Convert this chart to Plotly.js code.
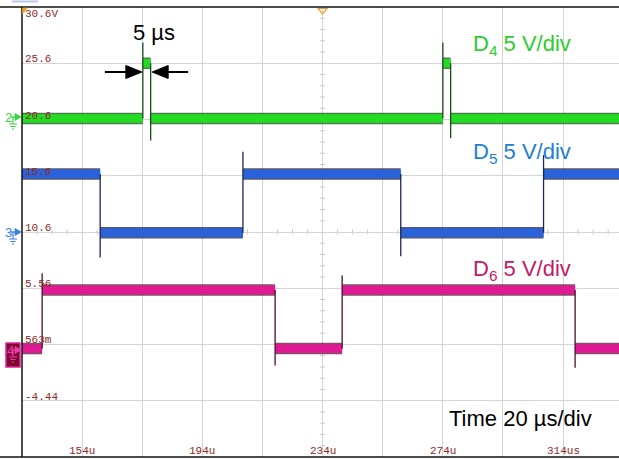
<!DOCTYPE html>
<html><head><meta charset="utf-8">
<script src="https://cdn.plot.ly/plotly-3.0.1.min.js"></script>
<style>html,body{margin:0;padding:0;background:#fff;}#chart{width:619px;height:459px;}</style>
</head><body><div id="chart"></div>
<script>
// ---- axes (time in µs, display volts) ----
const tStart = 134, tEnd = 332.6;
const vBottom = -9.44, vTop = 30.56;
const xTickValues = [154, 194, 234, 274, 314];
const xTickLabels = ['154u', '194u', '234u', '274u', '314us'];
const yTickValues = [30.56, 25.56, 20.56, 15.56, 10.56, 5.56, 0.563, -4.44];
const yTickLabels = ['30.6V', '25.6', '20.6', '15.6', '10.6', '5.56', '563m', '-4.44'];

// ---- D4 (green) ----
const d4Levels = [20.65, 25.56, 20.65, 25.56, 20.65];
const d4Edges  = [174.2, 176.8, 274.0, 276.6];
const d4Spikes = [27.4, 18.7, 27.4, 18.9];
// ---- D5 (blue) ----
const d5Levels = [15.72, 10.5, 15.72, 10.5, 15.72];
const d5Edges  = [160.0, 207.5, 260.0, 307.5];
const d5Spikes = [8.3, 17.7, 8.4, 17.4];
// ---- D6 (magenta) ----
const d6Levels = [0.2, 5.4, 0.2, 5.4, 0.2];
const d6Edges  = [140.7, 218.2, 240.5, 318.0];
const d6Spikes = [6.9, -1.3, 6.7, -1.5];

function bands(edges, levels){
  const x=[], y=[], b=[tStart, ...edges, tEnd];
  for(let i=0;i<levels.length;i++){ x.push(b[i], b[i+1], null); y.push(levels[i], levels[i], null); }
  return {x, y};
}
function edgeLines(edges, levels, spikes){
  const x=[], y=[];
  edges.forEach((t,i)=>{ x.push(t, t, t, null); y.push(levels[i], spikes[i], levels[i+1], null); });
  return {x, y};
}
const channels = [
  {e:d4Edges, l:d4Levels, s:d4Spikes, c:'#22dd22', d:'rgba(10,70,10,0.7)', k:'#1b4d1b'},
  {e:d5Edges, l:d5Levels, s:d5Spikes, c:'#2a62dc', d:'rgba(10,20,70,0.7)', k:'#1c2850'},
  {e:d6Edges, l:d6Levels, s:d6Spikes, c:'#e01a94', d:'rgba(80,5,40,0.7)', k:'#4a1030'}
];
const traces = [];
channels.forEach(ch=>{
  const b = bands(ch.e, ch.l), e = edgeLines(ch.e, ch.l, ch.s);
  traces.push({type:'scatter', mode:'lines', x:b.x, y:b.y, line:{color:ch.d, width:11.5}, hoverinfo:'skip'});
  traces.push({type:'scatter', mode:'lines', x:b.x, y:b.y, line:{color:ch.c, width:8.5}, hoverinfo:'skip'});
  traces.push({type:'scatter', mode:'lines', x:e.x, y:e.y, line:{color:ch.k, width:1.3}, hoverinfo:'skip'});
});

// pixel helpers for decorations
const PT = 7, PH = 450, PL = 22, PW = 597;
const pyPaper = p => (PT + PH - p) / PH;
const pxPaper = p => (p - PL) / PW;
const pyVal = p => vTop - (p - PT) * (vTop - vBottom) / PH;

const shapes = [];
// minor ticks on centre lines
const tCenter = 234, vCenter = 10.56;
for(let t = tStart; t <= tEnd; t += 5){
  if(Math.abs((t - tStart) % 20) < 1e-6) continue;
  shapes.push({type:'line', layer:'below', xref:'x', yref:'y', ysizemode:'pixel', yanchor:vCenter, x0:t, x1:t, y0:-2.5, y1:2.5, line:{color:'#c8c8c8', width:1}});
}
for(let v = vBottom; v <= vTop; v += 1){
  const r = ((v - vBottom) % 5 + 5) % 5;
  if(r < 1e-6 || 5 - r < 1e-6) continue;
  shapes.push({type:'line', layer:'below', xref:'x', yref:'y', xsizemode:'pixel', xanchor:tCenter, x0:-2.5, x1:2.5, y0:v, y1:v, line:{color:'#c8c8c8', width:1}});
}
// frame
shapes.push({type:'line', xref:'paper', yref:'paper', x0:pxPaper(0), x1:1, y0:1, y1:1, line:{color:'#111', width:1.5}});
shapes.push({type:'line', xref:'paper', yref:'paper', x0:pxPaper(0), x1:1, y0:0, y1:0, line:{color:'#111', width:1.5}});
shapes.push({type:'line', xref:'paper', yref:'paper', x0:0, x1:0, y0:0, y1:1, line:{color:'#111', width:1.5}});
shapes.push({type:'line', xref:'paper', yref:'paper', x0:pxPaper(12), x1:pxPaper(38), y0:pyPaper(1.5), y1:pyPaper(1.5), line:{color:'#b9c9e2', width:2}});
// orange corner + trigger markers
shapes.push({type:'path', xref:'paper', yref:'paper', xsizemode:'pixel', ysizemode:'pixel', xanchor:0, yanchor:1, path:'M 0.5 -1 L 5.5 -1 L 0.5 -7 Z', fillcolor:'#f3a12c', line:{color:'#f3a12c', width:0.5}});
shapes.push({type:'path', xref:'x', yref:'paper', xsizemode:'pixel', ysizemode:'pixel', xanchor:tCenter, yanchor:1, path:'M -4.5 -1.5 L 4.5 -1.5 L 0 -7 Z', line:{color:'#f0a030', width:1.2}});
// 5 µs arrows
const arrY = pyVal(72);
shapes.push({type:'path', xref:'x', yref:'y', xsizemode:'pixel', ysizemode:'pixel', xanchor:d4Edges[0], yanchor:arrY, path:'M -38 0 L -15 0', line:{color:'#000', width:2}});
shapes.push({type:'path', xref:'x', yref:'y', xsizemode:'pixel', ysizemode:'pixel', xanchor:d4Edges[0], yanchor:arrY, path:'M -17 6.5 L -1 0 L -17 -6.5 Z', fillcolor:'#000', line:{color:'#000', width:1}});
shapes.push({type:'path', xref:'x', yref:'y', xsizemode:'pixel', ysizemode:'pixel', xanchor:d4Edges[1], yanchor:arrY, path:'M 15 0 L 37.5 0', line:{color:'#000', width:2}});
shapes.push({type:'path', xref:'x', yref:'y', xsizemode:'pixel', ysizemode:'pixel', xanchor:d4Edges[1], yanchor:arrY, path:'M 17.5 6.5 L 1.5 0 L 17.5 -6.5 Z', fillcolor:'#000', line:{color:'#000', width:1}});
// channel ground markers
function marker(py, col){
  const base = {xref:'paper', yref:'y', xsizemode:'pixel', ysizemode:'pixel', xanchor:0, yanchor:pyVal(py)};
  shapes.push(Object.assign({type:'path', path:'M -11 0 L -6 0', line:{color:col, width:1.3}}, base));
  shapes.push(Object.assign({type:'path', path:'M -7 3.5 L -1 0 L -7 -3.5 Z', fillcolor:col, line:{color:col, width:0.8}}, base));
  shapes.push(Object.assign({type:'path', path:'M -9 0 L -9 -7 M -13 -7 L -5 -7 M -11.5 -9.5 L -6.5 -9.5 M -10 -12 L -8 -12', line:{color:col, width:1.1}}, base));
}
shapes.push({type:'rect', xref:'paper', yref:'y', xsizemode:'pixel', ysizemode:'pixel', xanchor:0, yanchor:pyVal(350), x0:-16, x1:-2, y0:7, y1:-17, fillcolor:'#7c0a2e', line:{color:'#e3239a', width:1.5}});
marker(117, '#3ad43a');
marker(232, '#3a7de0');
marker(350, '#f03aa8');

const annotations = [];
const monoFont = {family:'Liberation Mono, DejaVu Sans Mono, monospace', size:11, color:'#8e2b2b'};
yTickValues.forEach((v,i)=>{
  annotations.push({xref:'paper', yref:'y', x:pxPaper(23), y:v, xanchor:'left', yanchor:'middle', yshift: i===0 ? -7 : 4, text:yTickLabels[i], showarrow:false, font:monoFont});
});
xTickValues.forEach((t,i)=>{
  annotations.push({xref:'x', yref:'paper', x:t, y:0, xanchor:'center', yanchor:'middle', yshift:6, text:xTickLabels[i], showarrow:false, font:monoFont});
});
const bigFont = (c)=>({family:'Liberation Sans, Arial, sans-serif', size:22, color:c});
annotations.push({xref:'paper', yref:'paper', x:pxPaper(471), y:pyPaper(45), xanchor:'left', yanchor:'middle', text:'D<sub>4</sub> 5 V/div', showarrow:false, font:bigFont('#2ccd2c')});
annotations.push({xref:'paper', yref:'paper', x:pxPaper(471), y:pyPaper(153), xanchor:'left', yanchor:'middle', text:'D<sub>5</sub> 5 V/div', showarrow:false, font:bigFont('#1e7fd6')});
annotations.push({xref:'paper', yref:'paper', x:pxPaper(471), y:pyPaper(270), xanchor:'left', yanchor:'middle', text:'D<sub>6</sub> 5 V/div', showarrow:false, font:bigFont('#c41a6a')});
annotations.push({xref:'paper', yref:'paper', x:pxPaper(447), y:pyPaper(418), xanchor:'left', yanchor:'middle', text:'Time 20 µs/div', showarrow:false, font:bigFont('#000')});
annotations.push({xref:'paper', yref:'paper', x:pxPaper(154), y:pyPaper(32), xanchor:'center', yanchor:'middle', text:'5 µs', showarrow:false, font:bigFont('#000')});
// channel numbers
const chFont = (c)=>({family:'Liberation Sans, Arial, sans-serif', size:13, color:c});
annotations.push({xref:'paper', yref:'y', x:0, xshift:-14, y:pyVal(117), xanchor:'center', yanchor:'middle', text:'2', showarrow:false, font:chFont('#3ad43a')});
annotations.push({xref:'paper', yref:'y', x:0, xshift:-14, y:pyVal(232), xanchor:'center', yanchor:'middle', text:'3', showarrow:false, font:chFont('#3a7de0')});
annotations.push({xref:'paper', yref:'y', x:0, xshift:-12, y:pyVal(350), xanchor:'center', yanchor:'middle', text:'4', showarrow:false, font:chFont('#f03aa8')});

const layout = {
  width:619, height:459,
  margin:{l:PL, r:0, t:PT, b:2, pad:0},
  paper_bgcolor:'#ffffff', plot_bgcolor:'#ffffff',
  showlegend:false,
  xaxis:{range:[tStart, tEnd], tick0:tStart, dtick:20, showgrid:true, gridcolor:'#d4d4d4', gridwidth:1, zeroline:false, showticklabels:false, ticks:'', showline:false, fixedrange:true},
  yaxis:{range:[vBottom, vTop], tick0:vBottom, dtick:5, showgrid:true, gridcolor:'#d4d4d4', gridwidth:1, zeroline:false, showticklabels:false, ticks:'', showline:false, fixedrange:true},
  shapes:shapes, annotations:annotations
};
Plotly.newPlot('chart', traces, layout, {displayModeBar:false, staticPlot:true});
</script>
</body></html>
